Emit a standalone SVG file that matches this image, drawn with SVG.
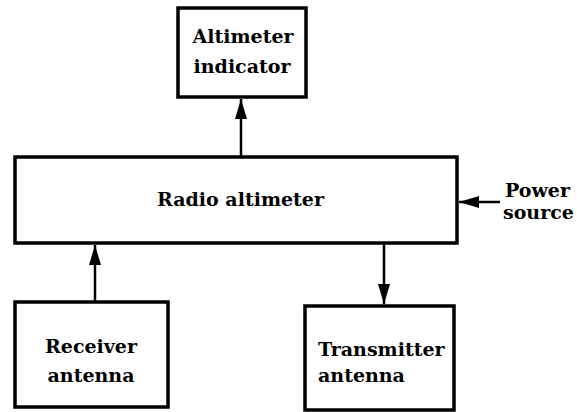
<svg xmlns="http://www.w3.org/2000/svg" width="577" height="412" viewBox="0 0 577 412">
  <style>
    .box { fill: #ffffff; stroke: #000000; stroke-width: 3.5; }
    .lbl { font-family: "DejaVu Serif", "Liberation Serif", serif; font-size: 19px; font-weight: bold; fill: #000000; }
    .conn { fill: none; stroke: #000000; stroke-width: 2.5; marker-end: url(#arrow); }
  </style>
  <defs>
    <marker id="arrow" markerUnits="userSpaceOnUse" markerWidth="21" markerHeight="13" refX="20" refY="6.5" orient="auto">
      <path d="M0,0.5 L20,6.5 L0,12.5 Z" fill="#000000"/>
    </marker>
  </defs>
  <rect width="577" height="412" fill="#ffffff"/>

  <g id="connectors">
    <line class="conn" x1="241" y1="157" x2="241" y2="99"/>
    <line class="conn" x1="500" y1="202" x2="459" y2="202"/>
    <line class="conn" x1="95" y1="302" x2="95" y2="245"/>
    <line class="conn" x1="384" y1="243" x2="384" y2="304"/>
  </g>

  <g id="altimeter-indicator">
    <rect class="box" x="178" y="8" width="128" height="89"/>
    <text class="lbl" x="243" y="43" text-anchor="middle">Altimeter</text>
    <text class="lbl" x="242" y="73" text-anchor="middle">indicator</text>
  </g>

  <g id="radio-altimeter">
    <rect class="box" x="15" y="157" width="442" height="86"/>
    <text class="lbl" x="240.5" y="206" text-anchor="middle">Radio altimeter</text>
  </g>

  <g id="power-source">
    <text class="lbl" x="505" y="197">Power</text>
    <text class="lbl" x="503" y="219">source</text>
  </g>

  <g id="receiver-antenna">
    <rect class="box" x="15" y="302" width="153" height="105"/>
    <text class="lbl" x="91" y="353" text-anchor="middle">Receiver</text>
    <text class="lbl" x="91" y="382" text-anchor="middle">antenna</text>
  </g>

  <g id="transmitter-antenna">
    <rect class="box" x="305" y="306" width="149" height="104"/>
    <text class="lbl" x="318" y="356">Transmitter</text>
    <text class="lbl" x="318" y="382">antenna</text>
  </g>
</svg>
